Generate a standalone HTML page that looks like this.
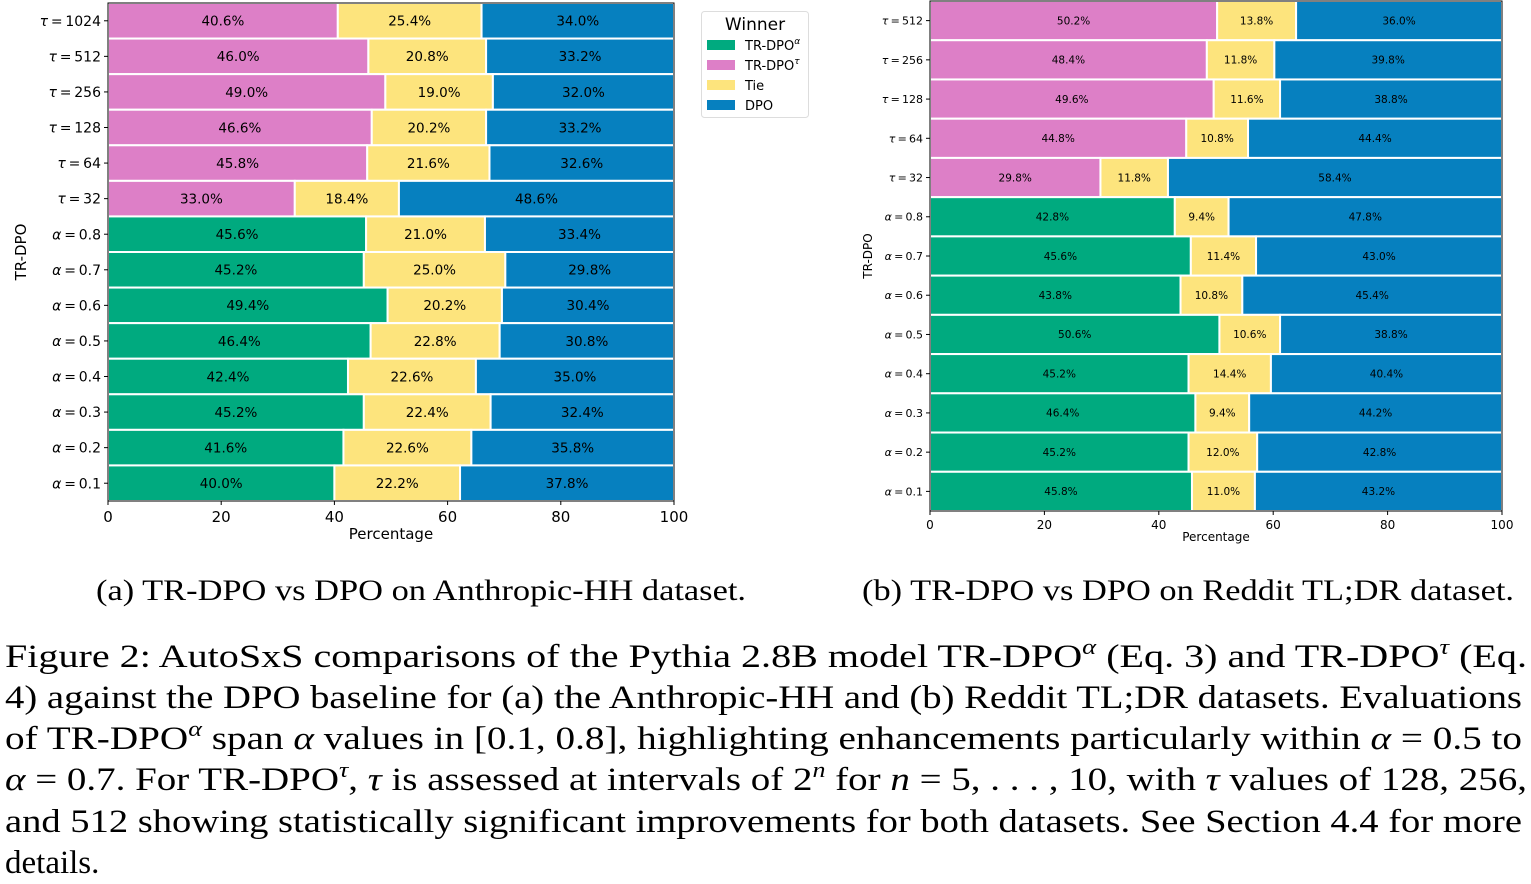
<!DOCTYPE html>
<html><head><meta charset="utf-8"><style>
html,body{margin:0;padding:0;background:#fff;}
svg{display:block;}
</style></head><body>
<svg id="fig" width="1531" height="884" xmlns="http://www.w3.org/2000/svg">
<g id="chartA"></g>
<g id="chartB"></g>
<g font-family="DejaVu Sans, sans-serif">
<rect x="701.5" y="11.5" width="107" height="106" rx="3" fill="#fff" stroke="#ddd"/>
<text x="755" y="30" font-size="17" text-anchor="middle">Winner</text>
<g><rect x="707" y="40" width="28" height="10" fill="#00aa7f"/><text x="745" y="50" font-size="13">TR-DPO<tspan font-size="9" dy="-6" font-style="italic">α</tspan></text></g>
<g><rect x="707" y="60" width="28" height="10" fill="#dd7fc7"/><text x="745" y="70" font-size="13">TR-DPO<tspan font-size="9" dy="-6" font-style="italic">τ</tspan></text></g>
<g><rect x="707" y="80" width="28" height="10" fill="#fde47d"/><text x="745" y="90" font-size="13">Tie</text></g>
<g><rect x="707" y="100" width="28" height="10" fill="#0680bf"/><text x="745" y="110" font-size="13">DPO</text></g>
</g>
<g font-family="Liberation Serif, serif" fill="#000">
<text x="96" y="600" font-size="30" textLength="650" lengthAdjust="spacingAndGlyphs">(a) TR-DPO vs DPO on Anthropic-HH dataset.</text>
<text x="862" y="600" font-size="30" textLength="652" lengthAdjust="spacingAndGlyphs">(b) TR-DPO vs DPO on Reddit TL;DR dataset.</text>
<g font-size="33">
<text x="5" y="667" textLength="1522" lengthAdjust="spacingAndGlyphs">Figure 2: AutoSxS comparisons of the Pythia 2.8B model TR-DPO<tspan font-size="22" dy="-13" font-style="italic">α</tspan><tspan dy="13"> (Eq. 3) and TR-DPO</tspan><tspan font-size="22" dy="-13" font-style="italic">τ</tspan><tspan dy="13"> (Eq.</tspan></text>
<text x="5" y="708" textLength="1517" lengthAdjust="spacingAndGlyphs">4) against the DPO baseline for (a) the Anthropic-HH and (b) Reddit TL;DR datasets. Evaluations</text>
<text x="5" y="749" textLength="1517" lengthAdjust="spacingAndGlyphs">of TR-DPO<tspan font-size="22" dy="-13" font-style="italic">α</tspan><tspan dy="13"> span </tspan><tspan font-style="italic">α</tspan> values in [0.1, 0.8], highlighting enhancements particularly within <tspan font-style="italic">α</tspan> = 0.5 to</text>
<text x="5" y="790" textLength="1522" lengthAdjust="spacingAndGlyphs"><tspan font-style="italic">α</tspan> = 0.7. For TR-DPO<tspan font-size="22" dy="-13" font-style="italic">τ</tspan><tspan dy="13">, </tspan><tspan font-style="italic">τ</tspan> is assessed at intervals of 2<tspan font-size="22" dy="-13" font-style="italic">n</tspan><tspan dy="13"> for </tspan><tspan font-style="italic">n</tspan> = 5, . . . , 10, with <tspan font-style="italic">τ</tspan> values of 128, 256,</text>
<text x="5" y="832" textLength="1517" lengthAdjust="spacingAndGlyphs">and 512 showing statistically significant improvements for both datasets. See Section 4.4 for more</text>
<text x="5" y="873">details.</text>
</g>
</g>
</svg>
<script>
const labelsA = ["τ = 1024","τ = 512","τ = 256","τ = 128","τ = 64","τ = 32","α = 0.8","α = 0.7","α = 0.6","α = 0.5","α = 0.4","α = 0.3","α = 0.2","α = 0.1"];
const trdpoA = [40.6,46.0,49.0,46.6,45.8,33.0,45.6,45.2,49.4,46.4,42.4,45.2,41.6,40.0];
const tieA   = [25.4,20.8,19.0,20.2,21.6,18.4,21.0,25.0,20.2,22.8,22.6,22.4,22.6,22.2];
const dpoA   = [34.0,33.2,32.0,33.2,32.6,48.6,33.4,29.8,30.4,30.8,35.0,32.4,35.8,37.8];
const labelsB = ["τ = 512","τ = 256","τ = 128","τ = 64","τ = 32","α = 0.8","α = 0.7","α = 0.6","α = 0.5","α = 0.4","α = 0.3","α = 0.2","α = 0.1"];
const trdpoB = [50.2,48.4,49.6,44.8,29.8,42.8,45.6,43.8,50.6,45.2,46.4,45.2,45.8];
const tieB   = [13.8,11.8,11.6,10.8,11.8,9.4,11.4,10.8,10.6,14.4,9.4,12.0,11.0];
const dpoB   = [36.0,39.8,38.8,44.4,58.4,47.8,43.0,45.4,38.8,40.4,44.2,42.8,43.2];
const xTicks = [0,20,40,60,80,100];

const NS="http://www.w3.org/2000/svg";
function mk(parent,tag,attrs,text){const e=document.createElementNS(NS,tag);for(const k in attrs)e.setAttribute(k,attrs[k]);if(text!==undefined)e.textContent=text;parent.appendChild(e);return e;}

function draw(g,cfg,labels,a,t,d){
  const xs=v=>cfg.x0+(cfg.x1-cfg.x0)*v/100;
  const n=labels.length, band=(cfg.y1-cfg.y0)/n;
  const ys=i=>cfg.y0+band*i;
  const ff="DejaVu Sans, sans-serif";
  for(let i=0;i<n;i++){
    const isTau=labels[i].startsWith("τ");
    const segs=[[a[i],isTau?"#dd7fc7":"#00aa7f","winner"],[t[i],"#fde47d","tie"],[d[i],"#0680bf","dpo"]];
    let acc=0;
    segs.forEach(s=>{
      const r=mk(g,"rect",{x:xs(acc),y:ys(i),width:xs(acc+s[0])-xs(acc),height:band,fill:s[1],stroke:"#fff","stroke-width":2});
      
      
      const tx=mk(g,"text",{x:xs(acc+s[0]/2),y:ys(i)+band/2+cfg.vf*0.36,"font-size":cfg.vf,"font-family":ff,"text-anchor":"middle"},s[0].toFixed(1)+"%");
      
      
      acc+=s[0];
    });
    const lb=mk(g,"text",{x:cfg.x0-7,y:ys(i)+band/2+cfg.lf*0.36,"font-size":cfg.lf,"font-family":ff,"text-anchor":"end"});
    
    
    const parts=labels[i].split(" = ");
    mk(lb,"tspan",{"font-style":"italic"},parts[0]);
    mk(lb,"tspan",{},"\u2009=\u2009"+parts[1]);
    mk(g,"line",{x1:cfg.x0-4,x2:cfg.x0,y1:ys(i)+band/2,y2:ys(i)+band/2,stroke:"#000"});
  }
  mk(g,"rect",{x:cfg.x0,y:cfg.y0,width:cfg.x1-cfg.x0,height:cfg.y1-cfg.y0,fill:"none",stroke:"#000","stroke-width":1});
  xTicks.forEach(v=>{
    mk(g,"line",{x1:xs(v),x2:xs(v),y1:cfg.y1,y2:cfg.y1+4,stroke:"#000"});
    const tl=mk(g,"text",{x:xs(v),y:cfg.y1+6+cfg.tf,"font-size":cfg.tf,"font-family":ff,"text-anchor":"middle"},v);
    
    
  });
  const xt=mk(g,"text",{x:(cfg.x0+cfg.x1)/2,y:cfg.xty,"font-size":cfg.tf,"font-family":ff,"text-anchor":"middle"},"Percentage");
  
  
  const yt=mk(g,"text",{x:cfg.ytx,y:(cfg.y0+cfg.y1)/2,"font-size":cfg.tf,"font-family":ff,"text-anchor":"middle",transform:`rotate(-90 ${cfg.ytx} ${(cfg.y0+cfg.y1)/2})`},"TR-DPO");
  
  
}
draw(document.getElementById("chartA"),{x0:108,x1:674,y0:3,y1:501,vf:13.5,lf:14,tf:15,xty:539,ytx:26},labelsA,trdpoA,tieA,dpoA);
draw(document.getElementById("chartB"),{x0:930,x1:1502,y0:1,y1:511,vf:10.5,lf:11,tf:12,xty:541,ytx:872},labelsB,trdpoB,tieB,dpoB);
</script>
</body></html>
